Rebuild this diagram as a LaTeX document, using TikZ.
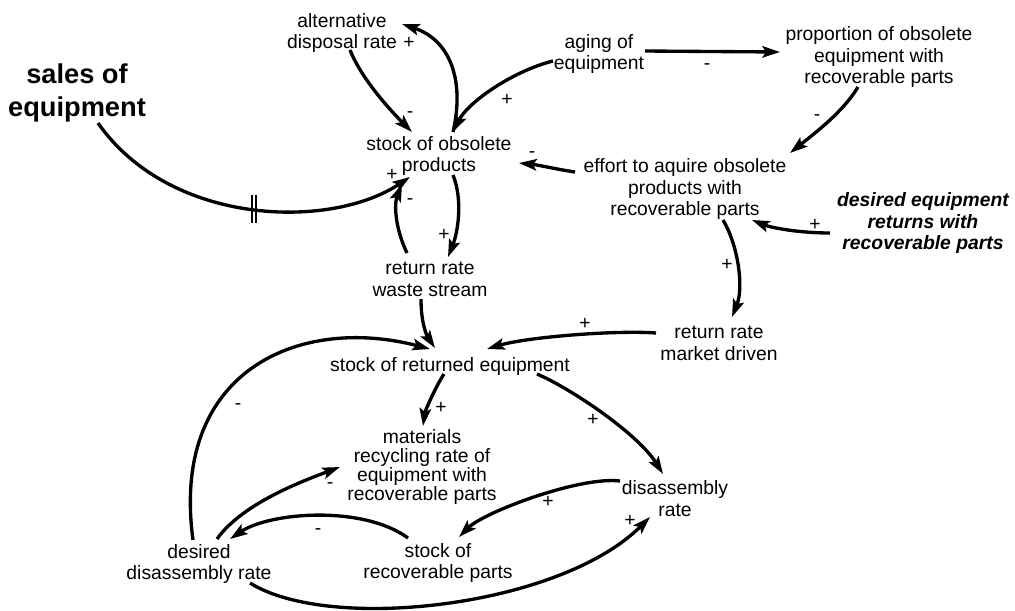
\documentclass[tikz,border=0pt]{standalone}
\usepackage{fontspec}
\setmainfont{Liberation Sans}
\usetikzlibrary{arrows.meta}
\begin{document}
\begin{tikzpicture}[x=0.02cm,y=-0.02cm,
  var/.style={align=center,inner sep=0pt,font=\fontsize{11}{12.5}\selectfont},
  pol/.style={inner sep=0pt,font=\fontsize{11}{12.5}\selectfont},
  link/.style={line width=1.9pt,-{Stealth[length=10pt,width=6.5pt,inset=2pt]}},
  hash/.style={line width=1.7pt}]
\useasboundingbox (0,0) rectangle (1015,610);

% variables
\node[var] (alt) at (342,33) {alternative\\disposal rate};
\node[var,font=\bfseries\fontsize{15.5}{18.5}\selectfont] (sales) at (77,93) {sales of\\equipment};
\node[var] (obs) at (439,156) {stock of obsolete\\products};
\node[var] (waste) at (430,279) {return rate\\waste stream};
\node[var] (aging) at (599,54) {aging of\\equipment};
\node[var] (prop) at (879,57) {proportion of obsolete\\equipment with\\recoverable parts};
\node[var] (effort) at (685,189) {effort to aquire obsolete\\products with\\recoverable parts};
\node[var,font=\bfseries\itshape\fontsize{11}{12}\selectfont] (desret) at (923,223) {desired equipment\\returns with\\recoverable parts};
\node[var] (market) at (719,343) {return rate\\market driven};
\node[var] (sret) at (450,366) {stock of returned equipment};
\node[var,font=\fontsize{11}{10.8}\selectfont] (mat) at (422,467) {materials\\recycling rate of\\equipment with\\recoverable parts};
\node[var] (disr) at (675,499) {disassembly\\rate};
\node[var] (srec) at (438,563) {stock of\\recoverable parts};
\node[var] (ddr) at (199,564) {desired\\disassembly rate};

% causal links
\draw[link] ([shift={(21,30)}]sales.center) .. controls +(72,103) and +(-80,53) .. coordinate[pos=0.5] (delay) ([shift={(-29,21)}]obs.center);
\draw[hash] ([shift={(1,-14)}]delay) -- ([shift={(1,14)}]delay);
\draw[hash] ([shift={(5,-14)}]delay) -- ([shift={(5,14)}]delay);

\draw[link] ([shift={(8,17)}]alt.center) .. controls +(12,30) and +(-20,-20) .. ([shift={(-27,-24)}]obs.center);
\draw[link] ([shift={(14,-24)}]obs.center) .. controls +(12,-52) and +(48,16) .. ([shift={(60,-9)}]alt.center);
\draw[link] ([shift={(-46,7)}]aging.center) .. controls +(-40,10) and +(15,-30) .. ([shift={(14,-24)}]obs.center);
\draw[link] ([shift={(46,-3)}]aging.center) -- ([shift={(-99,-5)}]prop.center);
\draw[link] ([shift={(-21,30)}]prop.center) .. controls +(-15,25) and +(25,-20) .. ([shift={(105,-36)}]effort.center);
\draw[link] ([shift={(-110,-17)}]effort.center) .. controls +(-20,-3) and +(20,2) .. ([shift={(80,7)}]obs.center);
\draw[link] ([shift={(-93,10)}]desret.center) .. controls +(-30,0) and +(20,8) .. ([shift={(67,31)}]effort.center);
\draw[link] ([shift={(38,31)}]effort.center) .. controls +(15,25) and +(12,-30) .. ([shift={(13,-26)}]market.center);
\draw[link] ([shift={(14,19)}]obs.center) .. controls +(10,25) and +(10,-25) .. ([shift={(18,-22)}]waste.center);
\draw[link] ([shift={(-23,-26)}]waste.center) .. controls +(-12,-25) and +(-8,20) .. ([shift={(-37,28)}]obs.center);
\draw[link] ([shift={(-9,20)}]waste.center) .. controls +(0,25) and +(-8,-12) .. ([shift={(-15,-18)}]sret.center);
\draw[link] ([shift={(-63,-10)}]market.center) .. controls +(-40,-3) and +(40,-12) .. ([shift={(37,-17)}]sret.center);
\draw[link] ([shift={(-6,-24)}]ddr.center) .. controls +(-23,-170) and +(-130,-34) .. ([shift={(-20,-17)}]sret.center);
\draw[link] ([shift={(-6,8)}]sret.center) .. controls +(-8,12) and +(2,-15) .. ([shift={(1,-41)}]mat.center);
\draw[link] ([shift={(87,8)}]sret.center) .. controls +(35,15) and +(-25,-40) .. ([shift={(-12,-25)}]disr.center);
\draw[link] ([shift={(-55,-18)}]disr.center) .. controls +(-40,-5) and +(25,-25) .. ([shift={(21,-26)}]srec.center);
\draw[link] ([shift={(-30,-25)}]srec.center) .. controls +(-45,-33) and +(40,-27) .. ([shift={(31,-25)}]ddr.center);
\draw[link] ([shift={(18,-25)}]ddr.center) .. controls +(25,-35) and +(-40,15) .. ([shift={(-82,0)}]mat.center);
\draw[link] ([shift={(51,19)}]ddr.center) .. controls +(80,50) and +(-90,90) .. ([shift={(-25,18)}]disr.center);

% link polarities
\node[pol] (s1) at (392,175) {+};
\node[pol] (s2) at (410,115) {-};
\node[pol] (s3) at (409,43) {+};
\node[pol] (s4) at (507,100) {+};
\node[pol] (s5) at (707,67) {-};
\node[pol] (s6) at (817,118) {-};
\node[pol] (s7) at (532,155) {-};
\node[pol] (s8) at (815,225) {+};
\node[pol] (s9) at (727,265) {+};
\node[pol] (s10) at (444,235) {+};
\node[pol] (s11) at (410,202) {-};
\node[pol] (s13) at (585,324) {+};
\node[pol] (s14) at (238,407) {-};
\node[pol] (s15) at (441,408) {+};
\node[pol] (s16) at (593,420) {+};
\node[pol] (s17) at (548,502) {+};
\node[pol] (s18) at (318,532) {-};
\node[pol] (s19) at (330,486) {-};
\node[pol] (s20) at (630,521) {+};
\end{tikzpicture}
\end{document}
